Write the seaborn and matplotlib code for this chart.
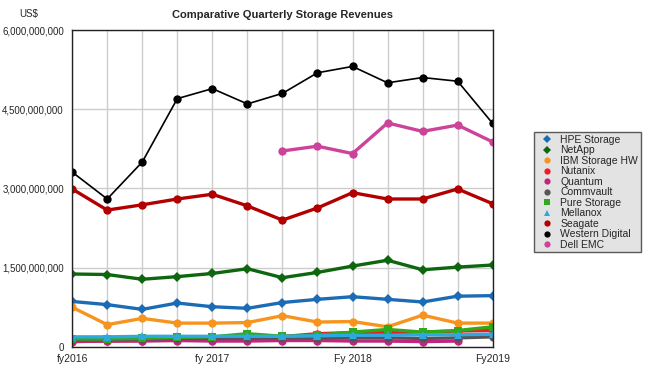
import matplotlib
matplotlib.use("Agg")
import matplotlib.pyplot as plt
import matplotlib.ticker as mticker
import seaborn as sns
import numpy as np
import pandas as pd

# quarterly revenues, US$ billions
quarters = list(range(13))
tick_pos = [0, 4, 8, 12]
tick_labels = ["fy2016", "fy 2017", "Fy 2018", "Fy2019"]

hpe = [0.86, 0.80, 0.71, 0.83, 0.76, 0.73, 0.84, 0.90, 0.95, 0.90, 0.85, 0.96, 0.97]
netapp = [1.38, 1.37, 1.28, 1.33, 1.39, 1.48, 1.31, 1.41, 1.53, 1.64, 1.46, 1.51, 1.55]
ibm = [0.75, 0.42, 0.54, 0.45, 0.45, 0.46, 0.59, 0.47, 0.48, 0.38, 0.60, 0.45, 0.45]
nutanix = [0.10, 0.11, 0.12, 0.145, 0.16, 0.18, 0.195, 0.25, 0.27, 0.27, 0.28, 0.30, 0.31]
quantum = [0.11, 0.11, 0.11, 0.12, 0.11, 0.11, 0.12, 0.12, 0.11, 0.11, 0.10, 0.11, np.nan]
commvault = [0.14, 0.15, 0.15, 0.16, 0.16, 0.16, 0.17, 0.17, 0.17, 0.17, 0.16, 0.17, 0.19]
pure = [0.15, 0.15, 0.16, 0.18, 0.19, 0.25, 0.20, 0.22, 0.28, 0.33, 0.28, 0.31, 0.38]
mellanox = [0.19, 0.19, 0.20, 0.20, 0.20, 0.20, 0.20, 0.21, 0.22, 0.22, 0.23, 0.23, 0.24]
seagate = [2.99, 2.59, 2.69, 2.80, 2.89, 2.67, 2.40, 2.63, 2.92, 2.80, 2.80, 2.99, 2.71]
wdc = [3.31, 2.80, 3.50, 4.70, 4.89, 4.60, 4.80, 5.19, 5.31, 5.00, 5.10, 5.03, 4.23]
dell_emc = [np.nan] * 6 + [3.71, 3.80, 3.66, 4.24, 4.08, 4.20, 3.88]

series = [
    ("HPE Storage", hpe, "#1b6cb5", "D", 5.5, 2.4),
    ("NetApp", netapp, "#0e660e", "D", 5.5, 2.4),
    ("IBM Storage HW", ibm, "#f7941d", "o", 6, 2.4),
    ("Nutanix", nutanix, "#ec1c24", "o", 6, 2.4),
    ("Quantum", quantum, "#c1267f", "o", 6, 2.4),
    ("Commvault", commvault, "#555555", "o", 6, 2.4),
    ("Pure Storage", pure, "#2eaa1c", "s", 5.5, 2.4),
    ("Mellanox", mellanox, "#2ea8e0", "^", 6, 2.4),
    ("Seagate", seagate, "#b20000", "o", 6, 2.4),
    ("Western Digital", wdc, "#000000", "o", 6, 1.2),
    ("Dell EMC", dell_emc, "#cc4499", "o", 6, 2.4),
]

sns.set_style("whitegrid")
plt.rcParams["font.family"] = ["Liberation Sans", "DejaVu Sans"]

fig = plt.figure(figsize=(6.5, 3.75), dpi=100)
ax = fig.add_axes([0.111, 0.075, 0.647, 0.845])

for name, vals, color, marker, ms, lw in series:
    df = pd.DataFrame({"q": quarters, "rev": np.array(vals) * 1e9})
    sns.lineplot(data=df, x="q", y="rev", ax=ax, color=color, marker=marker,
                 markersize=ms, markeredgewidth=0, linewidth=lw, label=name)

ax.set_xlim(0, 12)
ax.set_ylim(0, 6e9)
ax.set_xticks(quarters, minor=True)
ax.set_xticks(tick_pos)
ax.set_xticklabels(tick_labels, fontsize=7.5)
ax.set_yticks(np.arange(0, 6.01e9, 1.5e9))
ax.yaxis.set_major_formatter(mticker.FuncFormatter(lambda v, p: f"{v:,.0f}"))
ax.tick_params(axis="y", labelsize=7, length=0, pad=6)
ax.tick_params(axis="x", which="both", length=0, pad=5)
ax.grid(which="both", axis="x", color="#cccccc", linewidth=1)
ax.grid(which="major", axis="y", color="#cccccc", linewidth=1)
ax.set_xlabel("")
ax.set_ylabel("")
for s in ax.spines.values():
    s.set_color("#222222")
    s.set_linewidth(1)

ax.set_title("Comparative Quarterly Storage Revenues", fontsize=8, fontweight="bold", pad=9)
fig.text(0.03, 0.955, "US$", fontsize=7)

leg = ax.legend(loc="center left", bbox_to_anchor=(1.098, 0.488), fontsize=7.5,
                frameon=True, fancybox=False, facecolor="#dddddd", edgecolor="#333333",
                handlelength=2.0, handletextpad=0.3, labelspacing=0.05, borderpad=0.25,
                markerscale=0.75, borderaxespad=0)
for h in leg.legend_handles:
    h.set_linewidth(0)
leg.get_frame().set_linewidth(1)

fig.savefig("out.png", dpi=100)
